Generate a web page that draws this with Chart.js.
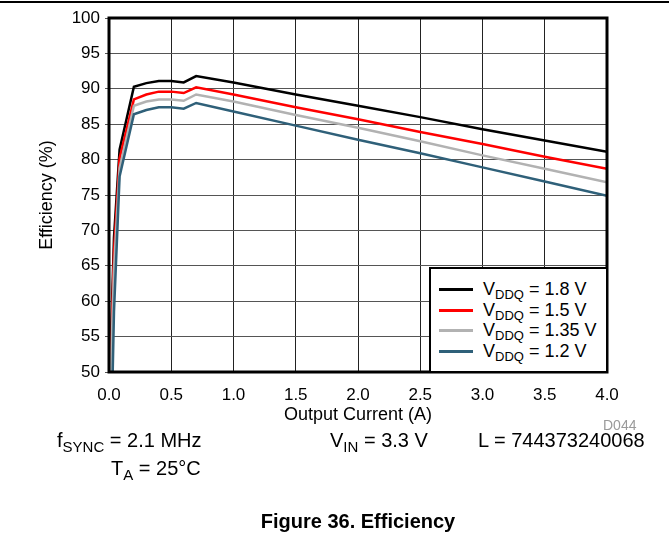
<!DOCTYPE html>
<html>
<head>
<meta charset="utf-8">
<script src="https://cdn.jsdelivr.net/npm/chart.js@4.4.1/dist/chart.umd.min.js"></script>
<style>
	body { margin: 0; background: #fff; font-family: "Liberation Sans", Arial, sans-serif; }
	#wrap { position: relative; width: 669px; height: 533px; overflow: hidden; }
	#top-rule { position: absolute; left: 0; top: 1px; width: 669px; height: 2px; background: #000; }
	.note { position: absolute; font-size: 20px; line-height: 24px; color: #000; white-space: nowrap; }
	.note sub { font-size: 15px; vertical-align: -5px; line-height: 0; }
	#legend { position: absolute; left: 429px; top: 267px; border: 2px solid #000; background: #fff; padding-top: 10px; box-sizing: border-box; width: 179px; height: 106px; }
	.leg-row { height: 20.7px; display: flex; align-items: center; font-size: 18px; white-space: nowrap; }
	.leg-row .swatch { width: 34px; height: 3px; margin-left: 8px; margin-right: 10px; }
	.leg-row sub { font-size: 13px; vertical-align: -4px; line-height: 0; }
	#dcode { position: absolute; left: 603px; top: 417px; font-size: 14px; color: #9a9a9a; }
	#caption { position: absolute; left: 0; width: 716px; top: 509px; line-height: 24px; text-align: center; font-size: 20px; font-weight: bold; }
</style>
</head>
<body>
<div id="wrap">
	<canvas id="eff-chart" width="669" height="533"></canvas>
	<div id="top-rule"></div>
	<div id="legend"></div>
	<div id="dcode">D044</div>
	<div class="note" style="left:57px; top:428px;">f<sub>SYNC</sub> = 2.1 MHz</div>
	<div class="note" style="left:111px; top:456px;">T<sub>A</sub> = 25°C</div>
	<div class="note" style="left:330px; top:428px;">V<sub>IN</sub> = 3.3 V</div>
	<div class="note" style="left:478px; top:428px;">L = 744373240068</div>
	<div id="caption">Figure 36. Efficiency</div>
</div>
<script>
// output current (A)
const currents = [0.01, 0.02, 0.04, 0.085, 0.2, 0.3, 0.4, 0.5, 0.6, 0.7, 1.0, 1.5, 2.0, 2.5, 3.0, 3.5, 4.0];

// efficiency (%) per VDDQ
const eff_18 = [46, 57, 69, 81.4, 90.3, 90.8, 91.1, 91.1, 90.9, 91.8, 90.9, 89.2, 87.6, 86.0, 84.3, 82.7, 81.1];
const eff_15 = [44, 55, 67, 80.2, 88.5, 89.2, 89.6, 89.6, 89.4, 90.2, 89.2, 87.4, 85.7, 83.9, 82.2, 80.4, 78.7];
const eff_135 = [42, 53, 64.5, 78.8, 87.6, 88.2, 88.5, 88.5, 88.3, 89.2, 88.2, 86.3, 84.5, 82.6, 80.6, 78.7, 76.8];
const eff_12 = [36, 42, 58.5, 77.6, 86.4, 87.0, 87.4, 87.4, 87.2, 88.0, 86.8, 84.8, 82.8, 80.9, 78.9, 76.9, 74.9];

const vddq_labels = ['1.8', '1.5', '1.35', '1.2'];

document.addEventListener("DOMContentLoaded", function() {
	const series = [eff_18, eff_15, eff_135, eff_12];
	const colors = ['#000000', '#ff0000', '#b2b2b2', '#2f6079'];

	let datasets = [];
	for (let i in series) {
		datasets.push({
			label: `VDDQ = ${vddq_labels[i]} V`,
			data: currents.map((c, j) => ({ x: c, y: series[i][j] })),
			borderColor: colors[i],
			backgroundColor: colors[i],
			borderWidth: 2.5,
			pointRadius: 0,
			tension: 0
		});
	}

	// frame round the plot area
	const frame = {
		id: 'frame',
		afterDatasetsDraw(chart) {
			const a = chart.chartArea;
			const ctx = chart.ctx;
			ctx.save();
			ctx.strokeStyle = '#000';
			ctx.lineWidth = 3;
			ctx.strokeRect(a.left, a.top, a.right - a.left, a.bottom - a.top);
			ctx.restore();
		}
	};

	const ctx = document.getElementById('eff-chart').getContext('2d');
	new Chart(ctx, {
		type: 'line',
		data: { datasets: datasets.slice().reverse() },
		options: {
			responsive: false,
			animation: false,
			layout: {
				padding: { left: 0, right: 62, top: 18, bottom: 105 }
			},
			scales: {
				x: {
					type: 'linear',
					min: 0,
					max: 4,
					afterFit: (scale) => { scale.height = 56; },
					ticks: {
						stepSize: 0.5,
						padding: 13,
						color: '#000',
						font: { family: 'Liberation Sans', size: 17 },
						callback: (v) => v.toFixed(1)
					},
					grid: { color: '#222', lineWidth: 1, drawTicks: false },
					border: { display: false },
					title: {
						display: true,
						text: 'Output Current (A)',
						color: '#000',
						font: { family: 'Liberation Sans', size: 18 },
						padding: { top: 0, bottom: 2 }
					}
				},
				y: {
					min: 50,
					max: 100,
					afterFit: (scale) => { scale.width = 109; },
					ticks: {
						stepSize: 5,
						padding: 5,
						color: '#000',
						font: { family: 'Liberation Sans', size: 17 }
					},
					grid: { color: '#555', lineWidth: 1, tickLength: 4 },
					border: { display: false },
					title: {
						display: true,
						text: 'Efficiency (%)',
						color: '#000',
						font: { family: 'Liberation Sans', size: 18 },
						padding: { top: 36, bottom: 0 }
					}
				}
			},
			plugins: {
				legend: { display: false },
				tooltip: { enabled: false }
			}
		},
		plugins: [frame]
	});

	// legend as html so the subscripts stay real text
	let legend = document.getElementById('legend');
	for (let i in vddq_labels) {
		let row = document.createElement('div');
		row.className = 'leg-row';
		row.innerHTML = `<span class="swatch" style="background:${colors[i]}"></span><span>V<sub>DDQ</sub> = ${vddq_labels[i]} V</span>`;
		legend.appendChild(row);
	}
});
</script>
</body>
</html>
